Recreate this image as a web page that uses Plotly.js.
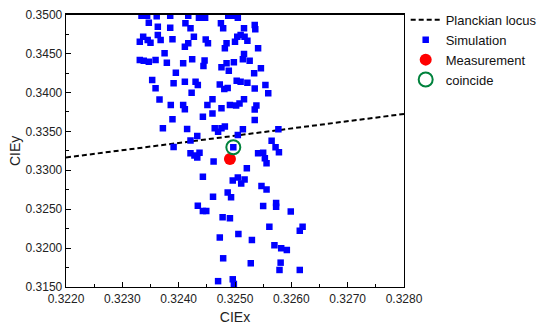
<!DOCTYPE html>
<html>
<head>
<meta charset="utf-8">
<script src="https://cdn.plot.ly/plotly-3.0.1.min.js"></script>
<style>html,body{margin:0;padding:0;background:#fff;}#chart{width:550px;height:331px;}</style>
</head>
<body>
<div id="chart"></div>
<script>
// Planckian locus (CIE x, CIE y)
const locusX = [0.3220, 0.3280];
const locusY = [0.33165, 0.33724];

// Simulation points (CIE x, CIE y)
const simX = [
0.32334,0.32344,0.32361,0.32385,0.32417,0.32436,0.32447,0.32488,0.32497,0.32505,
0.32347,0.32363,0.32385,0.32412,0.32421,0.32475,0.32479,0.32516,0.32535,0.32536,
0.32331,0.32337,0.32345,0.32350,0.32363,0.32368,0.32389,0.32411,0.32417,0.32427,
0.32448,0.32452,0.32485,0.32482,0.32500,0.32504,0.32510,0.32517,0.32522,0.32541,
0.32331,0.32338,0.32347,0.32359,0.32375,0.32379,0.32408,0.32424,0.32446,0.32516,
0.32514,0.32526,0.32476,0.32485,0.32489,0.32498,0.32534,0.32546,0.32395,0.32353,
0.32391,0.32411,0.32430,0.32434,0.32473,0.32481,0.32487,0.32503,0.32510,0.32522,
0.32535,0.32554,0.32559,0.32359,0.32423,0.32366,0.32460,0.32516,0.32386,0.32408,
0.32411,0.32443,0.32389,0.32372,0.32415,0.32433,0.32421,0.32391,0.32421,0.32428,
0.32437,0.32433,0.32451,0.32460,0.32476,0.32491,0.32502,0.32508,0.32538,0.32535,
0.32535,0.32464,0.32476,0.32482,0.32470,0.32505,0.32514,0.32577,0.32565,0.32572,
0.32578,0.32541,0.32550,0.32553,0.32556,0.32497,0.32462,0.32521,0.32496,0.32505,
0.32517,0.32511,0.32547,0.32556,0.32487,0.32443,0.32493,0.32461,0.32434,0.32443,
0.32449,0.32550,0.32573,0.32573,0.32599,0.32478,0.32491,0.32561,0.32620,0.32615,
0.32506,0.32473,0.32530,0.32570,0.32582,0.32592,0.32479,0.32528,0.32581,0.32579,
0.32615,0.32470,0.32496,0.32498,0.32444
];
const simY = [
0.34985,0.34985,0.34980,0.34985,0.34985,0.34960,0.34960,0.34985,0.34985,0.34960,
0.34897,0.34845,0.34832,0.34889,0.34825,0.34889,0.34825,0.34825,0.34867,0.34812,
0.34653,0.34717,0.34674,0.34640,0.34739,0.34674,0.34683,0.34588,0.34632,0.34717,
0.34681,0.34632,0.34632,0.34568,0.34653,0.34717,0.34739,0.34717,0.34665,0.34568,
0.34417,0.34408,0.34396,0.34417,0.34503,0.34383,0.34375,0.34426,0.34411,0.34494,
0.34426,0.34408,0.34324,0.34375,0.34280,0.34388,0.34246,0.34311,0.34254,0.34160,
0.34118,0.34139,0.34139,0.34096,0.34103,0.34045,0.34058,0.34151,0.34139,0.34126,
0.34051,0.34096,0.33989,0.34054,0.33997,0.33910,0.33912,0.33912,0.33839,0.33839,
0.33784,0.33689,0.33655,0.33540,0.33531,0.33441,0.33383,0.33299,0.33218,0.33190,
0.33226,0.33164,0.33839,0.33729,0.33797,0.33839,0.33833,0.33858,0.33833,0.33781,
0.33646,0.33540,0.33540,0.33563,0.33496,0.33454,0.33527,0.33527,0.33380,0.33296,
0.33231,0.33218,0.33226,0.33154,0.33090,0.33296,0.33113,0.33026,0.32869,0.32907,
0.32882,0.32830,0.32798,0.32753,0.32715,0.32918,0.32653,0.32661,0.32545,0.32477,
0.32477,0.32541,0.32580,0.32532,0.32471,0.32396,0.32383,0.32275,0.32275,0.32224,
0.32181,0.32136,0.32104,0.32038,0.31998,0.31976,0.31869,0.31805,0.31813,0.31719,
0.31719,0.31575,0.31599,0.31539,0.34340
];

// Measurement and coinciding simulation point
const measX = [0.32491];
const measY = [0.33145];
const coinX = [0.32497];
const coinY = [0.33296];

const xTickVals = [0.3220,0.3230,0.3240,0.3250,0.3260,0.3270,0.3280];
const yTickVals = [0.3150,0.3200,0.3250,0.3300,0.3350,0.3400,0.3450,0.3500];

const font = "Liberation Sans, Arial, sans-serif";

const traces = [
  {x: locusX, y: locusY, mode: 'lines', name: 'Planckian locus',
   line: {color: '#000', width: 2, dash: '5px,3px'}},
  {x: simX, y: simY, mode: 'markers', name: 'Simulation',
   marker: {symbol: 'square', size: 6.5, color: 'rgb(0,0,255)'}},
  {x: measX, y: measY, mode: 'markers', name: 'Measurement',
   marker: {symbol: 'circle', size: 12, color: 'rgb(255,0,0)'}},
  {x: coinX, y: coinY, mode: 'markers', name: 'coincide',
   marker: {symbol: 'circle-open', size: 14, color: 'rgb(0,130,60)', line: {width: 2, color: 'rgb(0,130,60)'}}}
];

const layout = {
  width: 550, height: 331,
  margin: {l: 66, r: 146, t: 0, b: 44, pad: 0},
  paper_bgcolor: '#fff', plot_bgcolor: '#fff',
  font: {family: font, size: 12, color: '#222'},
  showlegend: true,
  legend: {x: 1.005, xanchor: 'left', y: 0.983, yanchor: 'top',
           font: {family: font, size: 13, color: '#111'},
           bgcolor: 'rgba(0,0,0,0)', tracegroupgap: 0, itemwidth: 30},
  xaxis: {range: [0.3220, 0.3280], tickvals: xTickVals, tickformat: '.4f',
          ticks: 'inside', ticklen: 5, tickwidth: 1, tickcolor: '#000',
          minor: {dtick: 0.0005, tick0: 0.3220, ticks: 'inside', ticklen: 3, tickcolor: '#000'},
          showline: true, linecolor: '#000', linewidth: 1.3, mirror: true,
          showgrid: false, zeroline: false,
          tickfont: {family: font, size: 12, color: '#222'},
          title: {text: 'CIEx', font: {family: font, size: 14, color: '#222'}, standoff: 7}},
  yaxis: {range: [0.3150, 0.3500], domain: [0, 0.9488], tickvals: yTickVals, tickformat: '.4f',
          ticks: 'inside', ticklen: 5, tickwidth: 1, tickcolor: '#000',
          minor: {dtick: 0.0025, tick0: 0.3150, ticks: 'inside', ticklen: 3, tickcolor: '#000'},
          showline: true, linecolor: '#000', linewidth: 1.3, mirror: true,
          showgrid: false, zeroline: false,
          tickfont: {family: font, size: 12, color: '#222'},
          title: {text: 'CIEy', font: {family: font, size: 14, color: '#222'}, standoff: 1}}
};

Plotly.newPlot('chart', traces, layout, {displayModeBar: false, staticPlot: true});
</script>
</body>
</html>
